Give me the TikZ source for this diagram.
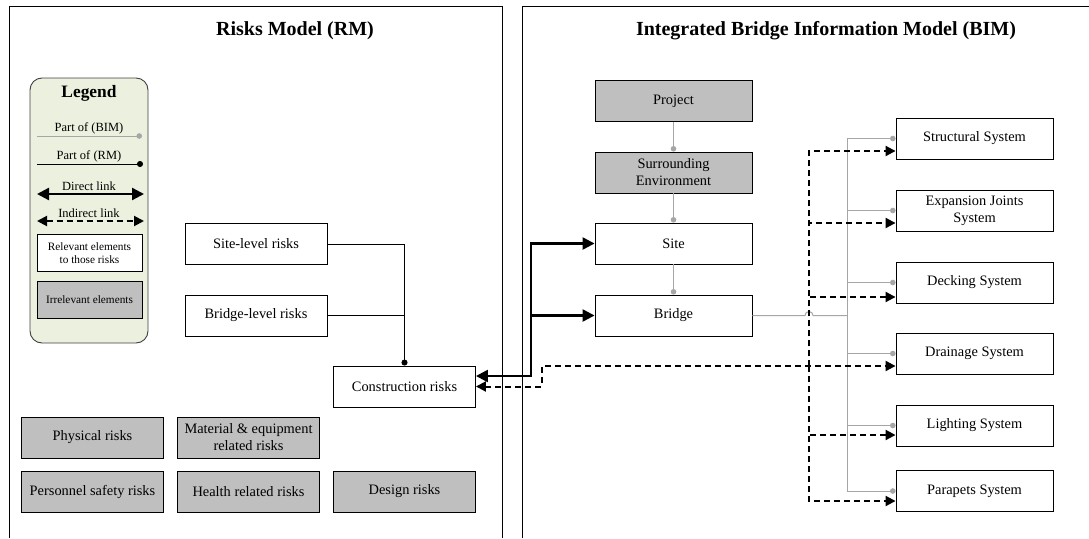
\documentclass[tikz,border=0pt]{standalone}
\usepackage{fontspec}
\setmainfont{Liberation Serif}
\usetikzlibrary{arrows.meta}
\definecolor{irrgrey}{HTML}{BFBFBF}
\definecolor{bimgrey}{HTML}{A6A6A6}
\definecolor{legendgreen}{HTML}{EBF1DE}

\begin{document}
\begin{tikzpicture}[
  x=1pt, y=-1pt,
  every node/.style={font=\fontsize{14.4}{17}\selectfont, align=center, inner sep=0pt},
  elem/.style={draw, line width=0.9pt, fill=white, minimum height=41pt, minimum width=142pt},
  wideelem/.style={elem, minimum width=157pt},
  irrelevant/.style={fill=irrgrey},
  paneltitle/.style={font=\fontsize{20}{24}\selectfont\bfseries},
  legendtxt/.style={font=\fontsize{12.5}{15}\selectfont},
  legendbox/.style={draw, line width=0.9pt, fill=white, minimum width=105pt, minimum height=37pt, font=\fontsize{11.3}{13.5}\selectfont},
  bimpart/.style={bimgrey, line width=1pt, -{Circle[length=5.5pt]}},
  rmpart/.style={black, line width=1pt, -{Circle[length=6pt]}},
  directlink/.style={line width=2.4pt, >={Triangle[length=12pt,width=12pt]}},
  indirectlink/.style={line width=2pt, dash pattern=on 6pt off 4pt, >={Triangle[length=10pt,width=10pt]}}
]
  \useasboundingbox (0,0) rectangle (1089,538);

  % the two panels
  \draw[line width=0.9pt] (9,538) -- (9,6) -- (502,6) -- (502,538);
  \draw[line width=0.9pt] (522,538) -- (522,6) -- (1089,6);
  \node[paneltitle] (rmtitle) at (295,31) {Risks Model (RM)};
  \node[paneltitle] (bimtitle) at (826,31) {Integrated Bridge Information Model (BIM)};

  % legend
  \node[draw=darkgray, fill=legendgreen, line width=0.9pt, rounded corners=12pt,
        minimum width=118pt, minimum height=265pt] (legend) at (89,210.5) {};
  \node[font=\fontsize{17.4}{20}\selectfont\bfseries] (legendtitle) at (89,93) {Legend};
  \node[legendtxt] (lgbimtxt) at (89,128) {Part of (BIM)};
  \coordinate (lgbimA) at (37,136);
  \coordinate (lgbimB) at (142,136);
  \draw[bimpart] (lgbimA) -- (lgbimB);
  \node[legendtxt] (lgrmtxt) at (89,156) {Part of (RM)};
  \coordinate (lgrmA) at (37,164);
  \coordinate (lgrmB) at (143,164);
  \draw[rmpart] (lgrmA) -- (lgrmB);
  \node[legendtxt] (lgdirtxt) at (89,186) {Direct link};
  \coordinate (lgdirA) at (37,194);
  \coordinate (lgdirB) at (144,194);
  \draw[directlink,<->] (lgdirA) -- (lgdirB);
  \node[legendtxt] (lgindtxt) at (89,213) {Indirect link};
  \coordinate (lgindA) at (37,221);
  \coordinate (lgindB) at (144,221);
  \draw[indirectlink,<->] (lgindA) -- (lgindB);
  \node[legendbox] (lgrel) at (89.5,253) {Relevant elements\\to those risks};
  \node[legendbox, irrelevant] (lgirr) at (89.5,300) {Irrelevant elements};

  % risks model
  \node[elem] (sitelvl) at (256,244) {Site-level risks};
  \node[elem] (bridgelvl) at (256,315.5) {Bridge-level risks};
  \node[elem] (constr) at (404.5,386.5) {Construction risks};
  \node[elem, irrelevant] (physical) at (92.5,437.5) {Physical risks};
  \node[elem, irrelevant] (material) at (248.5,437.5) {Material \& equipment\\related risks};
  \node[elem, irrelevant] (personnel) at (92.5,491.5) {Personnel safety risks};
  \node[elem, irrelevant] (health) at (248.5,491.5) {Health related risks};
  \node[elem, irrelevant] (design) at (404.5,491.5) {Design risks};

  \draw[rmpart] (sitelvl.east) -| (constr.north);
  \draw[line width=1pt] (bridgelvl.east) -- (bridgelvl.east -| constr.north);

  % bridge information model
  \node[wideelem, irrelevant] (project) at (673.5,101) {Project};
  \node[wideelem, irrelevant] (surround) at (673.5,172.5) {Surrounding\\Environment};
  \node[wideelem] (site) at (673.5,243.5) {Site};
  \node[wideelem] (bridge) at (673.5,315.5) {Bridge};

  \draw[bimpart] (project) -- (surround);
  \draw[bimpart] (surround) -- (site);
  \draw[bimpart] (site) -- (bridge);

  \node[wideelem] (structural) at (974.5,138.5) {Structural System};
  \node[wideelem] (expansion) at (974.5,210.5) {Expansion Joints\\System};
  \node[wideelem] (decking) at (974.5,282.5) {Decking System};
  \node[wideelem] (drainage) at (974.5,353.5) {Drainage System};
  \node[wideelem] (lighting) at (974.5,425.5) {Lighting System};
  \node[wideelem] (parapets) at (974.5,491) {Parapets System};

  \coordinate (gtrunk) at (847,315.5);
  \draw[bimgrey, line width=1pt] (bridge.east) -- (805,315.5) arc[start angle=180, end angle=0, radius=4pt] -- (gtrunk);
  \foreach \sys in {structural,expansion,decking,drainage,lighting,parapets}
    \draw[bimpart] (gtrunk) |- (\sys.west);

  % links between the two models
  \coordinate (dj) at (531,315.5);
  \draw[directlink,<->] ([yshift=10.5pt]constr.east) -| (dj) |- (site.west);
  \draw[directlink,->] (dj) -- (bridge.west);

  \coordinate (ij) at (542,366);
  \draw[indirectlink,<->] (constr.east) -| (ij) -- ([yshift=-12.5pt]drainage.west);
  \coordinate (itrunk) at (809,366);
  \foreach \sys/\off in {structural/12.5pt,expansion/12.5pt,decking/14.5pt,lighting/9.5pt,parapets/10pt}
    \draw[indirectlink,->] (itrunk) |- ([yshift=-\off]\sys.west);
\end{tikzpicture}
\end{document}
